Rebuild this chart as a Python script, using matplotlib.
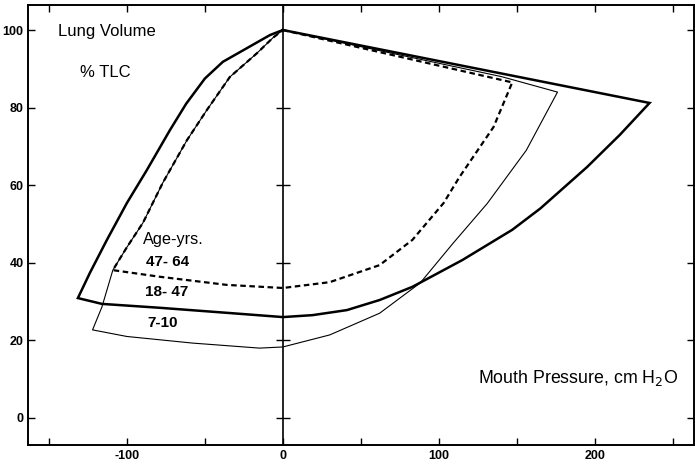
import matplotlib.pyplot as plt
import numpy as np

plt.rcParams['font.family'] = ['Liberation Sans', 'DejaVu Sans']
plt.rcParams['axes.unicode_minus'] = False

# pressure-volume loops, mouth pressure (cm H2O) vs lung volume (% TLC)
p_18_47 = [0, 235, 216, 195, 165, 147, 115, 83, 62, 41, 19, 0, -36, -79, -116, -131.4,
           -123.7, -112.8, -100, -87.2, -72.4, -62, -50, -38.5, -21, -8.3, 0]
v_18_47 = [100, 81.2, 73, 64.7, 54, 48.5, 40.7, 33.8, 30.4, 27.8, 26.5, 26, 27.1, 28.4, 29.4, 30.9,
           37.4, 45.9, 55.4, 63.9, 74.2, 81, 87.5, 91.8, 95.8, 98.7, 100]

p_7_10 = [0, 140, 176, 156, 131, 109, 88, 62, 30, 0, -15, -58, -100, -122,
          -116, -109, -100, -89.7, -77, -61.5, -48.7, -34, -16.7, -6.4, 0]
v_7_10 = [100, 88, 84, 69, 55.3, 45, 34.8, 27, 21.4, 18.3, 18, 19.3, 21, 22.7,
          28.6, 38.1, 44, 50.3, 60.6, 71.6, 79.4, 87.9, 94, 98, 100]

p_47_64 = [0, 147, 135, 113, 103, 83, 62, 30, 0, -36, -79, -109,
           -100, -89.7, -77, -61.5, -48.7, -34, -16.7, -6.4, 0]
v_47_64 = [100, 86.5, 75, 62, 55.4, 45.9, 39.4, 35, 33.5, 34.3, 36.4, 38.1,
           44, 50.3, 60.6, 71.6, 79.4, 87.9, 94, 98, 100]

xticks = [-100, 0, 100, 200]
xminor = [-150, -50, 50, 150, 250]
yticks = [0, 20, 40, 60, 80, 100]

fig = plt.figure(figsize=(6.95, 4.73), dpi=100)
ax = fig.add_axes([0.040, 0.059, 0.9586, 0.930])

ax.plot(p_18_47, v_18_47, color='black', lw=1.8, solid_joinstyle='miter')
ax.plot(p_7_10, v_7_10, color='black', lw=0.8)
ax.plot(p_47_64, v_47_64, color='black', lw=1.6, ls=(0, (2.5, 1.6)))

# zero-pressure line with its own cross ticks
ax.axvline(0, color='black', lw=1.2)
ax.plot([0] * 5, yticks[:5], ls='none', marker='_', ms=10, mew=1.0, color='black')

ax.set_xlim(-163.5, 263.5)
ax.set_ylim(-7, 106.4)
ax.set_xticks(xticks)
ax.set_xticks(xminor, minor=True)
ax.set_yticks(yticks)
ax.tick_params(which='both', direction='in', length=5, width=1.0, top=True, right=True,
               labelsize=9)
ax.tick_params(axis='y', pad=3)
for lab in ax.get_xticklabels() + ax.get_yticklabels():
    lab.set_fontweight('bold')
for s in ax.spines.values():
    s.set_linewidth(1.4)

ax.text(-144, 99.7, 'Lung Volume', fontsize=12, va='center')
ax.text(-130, 89, '% TLC', fontsize=12, va='center')
ax.text(-89.7, 46.1, 'Age-yrs.', fontsize=11.7, va='center')
ax.text(-87.8, 40.2, '47- 64', fontsize=11, fontweight='bold', va='center')
ax.text(-88.5, 32.5, '18- 47', fontsize=11, fontweight='bold', va='center')
ax.text(-87, 24.5, '7-10', fontsize=11, fontweight='bold', va='center')
ax.text(125, 10.3, 'Mouth Pressure, cm H$_2$O', fontsize=12.8, va='center')

fig.savefig('out.png', dpi=100)
